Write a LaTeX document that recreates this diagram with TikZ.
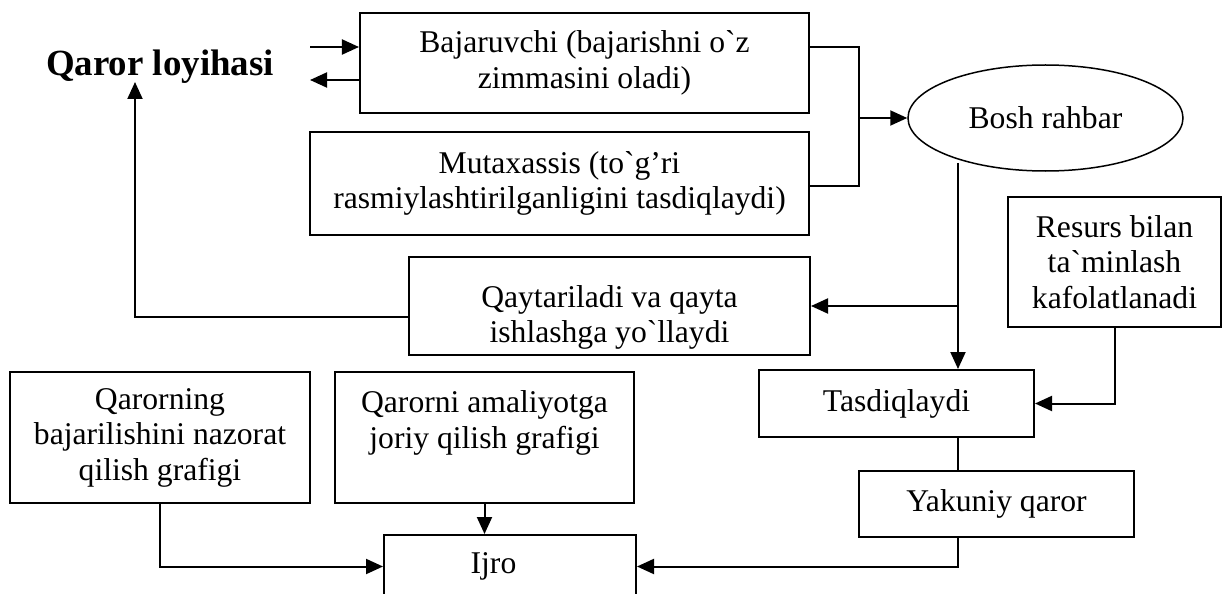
\documentclass[tikz,border=0pt]{standalone}
\usepackage{fontspec}
\setmainfont{Liberation Serif}[Ligatures=TeXOff]
\usepackage{tikz}
\usetikzlibrary{shapes.geometric, arrows.meta, positioning, calc}

\begin{document}
\begin{tikzpicture}[
    x=0.2mm, y=-0.2mm,
    box/.style={rectangle, draw, line width=0.4mm, align=center, inner sep=1pt, font=\fontsize{18}{20.2}\selectfont},
    oval/.style={ellipse, draw, line width=0.3mm, align=center, inner sep=0pt, font=\fontsize{18}{20.2}\selectfont},
    title/.style={font=\fontsize{21}{24}\selectfont\bfseries, inner sep=0pt},
    arrow/.style={-{Triangle[length=3.4mm, width=3mm]}, line width=0.4mm},
    conn/.style={line width=0.4mm},
]
\useasboundingbox (0,0) rectangle (1222,594);
% upper part
\node[title, anchor=base] (loyiha) at (160,76) {Qaror loyihasi};
\node[box, minimum width=89.8mm, minimum height=20mm] (bajar) at (584.5,63) {Bajaruvchi (bajarishni o`z\\zimmasini oladi)};
\node[box, minimum width=99.8mm, minimum height=20.6mm] (mutax) at (559.5,183.5) {Mutaxassis (to`g’ri\\rasmiylashtirilganligini tasdiqlaydi)};
\node[oval, minimum width=55mm, minimum height=21.2mm] (rahbar) at (1045.5,118) {Bosh rahbar};
\node[box, minimum width=42.6mm, minimum height=26mm] (resurs) at (1114.5,262) {Resurs bilan\\ta`minlash\\kafolatlanadi};
\node[box, minimum width=80.2mm, minimum height=19.6mm] (qaytar) at (609.5,306) {\rule{0pt}{9mm}Qaytariladi va qayta\\ishlashga yo`llaydi};
\node[box, minimum width=55mm, minimum height=13.4mm] (tasdiq) at (896.5,403.5) {Tasdiqlaydi};
\node[box, minimum width=55mm, minimum height=13.2mm] (yakun) at (996.5,504) {Yakuniy qaror};
% lower part
\node[box, minimum width=60mm, minimum height=26.2mm] (nazorat) at (160,437.5) {Qarorning\\bajarilishini nazorat\\qilish grafigi};
\node[box, minimum width=59.8mm, minimum height=26.2mm] (joriy) at (484.5,437.5) {Qarorni amaliyotga\\joriy qilish grafigi\\\mbox{}};
\node[box, minimum width=50.4mm, minimum height=12.6mm] (ijro) at (510,566.5) {Ijro\hspace*{6.6mm}};

\coordinate (lin) at (310,47);
\coordinate (lout) at (310,80);
\coordinate (ret) at (135,82);
\coordinate (brk) at (859,47);
\coordinate (down) at (958,163);

\draw[arrow] (lin) -- (lin -| bajar.west);
\draw[arrow] (lout -| bajar.west) -- (lout);
\draw[conn] (brk -| bajar.east) -- (brk) -- (brk |- 0,186) -- (mutax.east |- 0,186);
\draw[arrow] (brk |- rahbar.west) -- (rahbar.west);
\draw[arrow] (down) -- (down |- tasdiq.north);
\draw[arrow] (down |- qaytar.east) -- (qaytar.east);
\draw[arrow] (qaytar.west |- 0,317) -| (ret);
\draw[arrow] (resurs.south) |- (tasdiq.east);
\draw[conn] (down |- tasdiq.south) -- (down |- yakun.north);
\draw[arrow] (down |- yakun.south) |- (ijro.east);
\draw[arrow] (nazorat.south) |- (ijro.west);
\draw[arrow] (joriy.south) -- (joriy.south |- ijro.north);
\end{tikzpicture}
\end{document}
